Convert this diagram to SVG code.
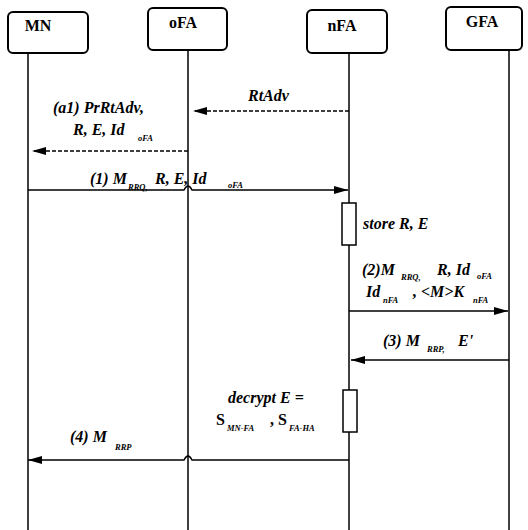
<svg xmlns="http://www.w3.org/2000/svg" width="528" height="530" viewBox="0 0 528 530">
<defs>
<marker id="ah" markerWidth="14" markerHeight="8" refX="14" refY="4" orient="auto" markerUnits="userSpaceOnUse">
<path d="M0,0 L14,4 L0,8 Z" fill="#000"/>
</marker>
</defs>
<style>
.box{fill:#fff;stroke:#000;stroke-width:2}
.life{stroke:#000;stroke-width:1.5;fill:none}
.msg{stroke:#000;stroke-width:1.5;fill:none}
.dash{stroke-dasharray:4,2}
.act{fill:#fff;stroke:#000;stroke-width:1.5}
.nl{font-family:"Liberation Serif",serif;font-weight:bold;font-size:16px;text-anchor:middle}
.t{font-family:"Liberation Serif",serif;font-weight:bold;font-style:italic;font-size:16px}
.s{font-family:"Liberation Serif",serif;font-weight:bold;font-style:italic;font-size:8.5px}
</style>
<rect width="528" height="530" fill="#fff"/>
<g id="lifelines">
<line class="life" x1="28" y1="53" x2="28" y2="530"/>
<line class="life" x1="188" y1="50" x2="188" y2="530"/>
<line class="life" x1="349" y1="53" x2="349" y2="530"/>
<line class="life" x1="509" y1="50" x2="509" y2="530"/>
</g>
<g id="MN"><rect class="box" x="8" y="12" width="80" height="41" rx="5"/><text class="nl" x="38" y="31">MN</text></g>
<g id="oFA"><rect class="box" x="148" y="8" width="79" height="42" rx="5"/><text class="nl" x="183" y="28">oFA</text></g>
<g id="nFA"><rect class="box" x="307" y="10" width="80" height="43" rx="5"/><text class="nl" x="342" y="31">nFA</text></g>
<g id="GFA"><rect class="box" x="446" y="7" width="76" height="43" rx="5"/><text class="nl" x="482" y="27">GFA</text></g>
<g id="act1"><rect class="act" x="342" y="203" width="14" height="42"/></g>
<g id="act2"><rect class="act" x="343" y="390" width="14" height="42"/></g>
<g id="connectors">
<line class="msg dash" x1="349" y1="111" x2="193" y2="111" marker-end="url(#ah)"/>
<line class="msg dash" x1="188" y1="151" x2="32" y2="151" marker-end="url(#ah)"/>
<path class="msg" d="M28,190 L184,190 Q188,182 192,190 L348,190" marker-end="url(#ah)"/>
<line class="msg" x1="349" y1="311" x2="508" y2="311" marker-end="url(#ah)"/>
<line class="msg" x1="509" y1="360" x2="351" y2="360" marker-end="url(#ah)"/>
<path class="msg" d="M349,460 L192,460 Q188,452 184,460 L28,460" marker-end="url(#ah)"/>
</g>
<g id="labels">
<text class="t" x="248" y="101">RtAdv</text>
<text class="t" x="53" y="113">(a1) PrRtAdv,</text>
<text class="t" x="73" y="135">R, E, Id</text><text class="s" x="138" y="141">oFA</text>
<text class="t" x="90" y="184">(1) M</text><text class="s" x="128" y="190">RRQ,</text>
<text class="t" x="155" y="184">R, E, Id</text><text class="s" x="228" y="188">oFA</text>
<text class="t" x="363" y="229">store R, E</text>
<text class="t" x="362" y="275">(2)M</text><text class="s" x="401" y="280">RRQ,</text>
<text class="t" x="437" y="275">R, Id</text><text class="s" x="477" y="279">oFA</text>
<text class="t" x="366" y="297">Id</text><text class="s" x="383" y="303">nFA</text>
<text class="t" x="413" y="297">, &lt;M&gt;K</text><text class="s" x="473" y="303">nFA</text>
<text class="t" x="383" y="346">(3) M</text><text class="s" x="427" y="352">RRP,</text>
<text class="t" x="458" y="346">E'</text>
<text class="t" x="228" y="403">decrypt E =</text>
<text class="t" x="216" y="425" style="font-style:normal">S</text><text class="s" x="227" y="431">MN-FA</text>
<text class="t" x="270" y="425" style="font-style:normal">, S</text><text class="s" x="289" y="431">FA-HA</text>
<text class="t" x="70" y="442">(4) M</text><text class="s" x="115" y="450">RRP</text>
</g>
</svg>
